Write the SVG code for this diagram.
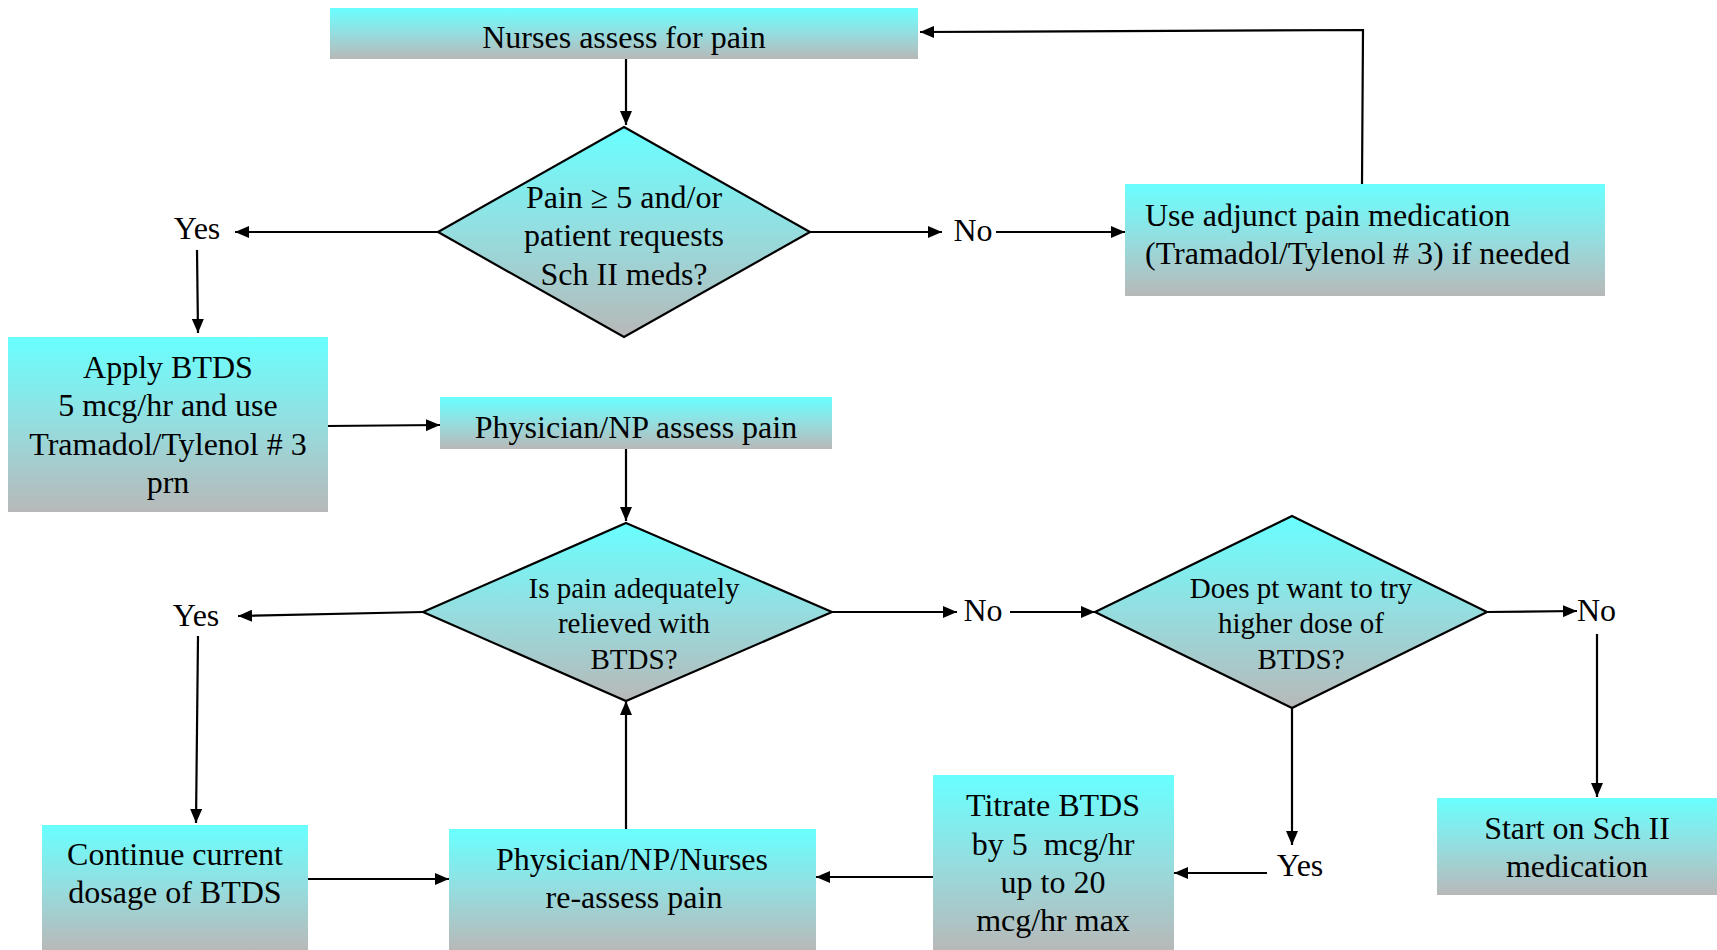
<svg xmlns="http://www.w3.org/2000/svg" width="1717" height="950" viewBox="0 0 1717 950">
<style>
  .t { font-family: "Liberation Serif", "Times New Roman", serif; font-size: 32px; fill: #000; }
  .s { font-size: 29px; }
  .m { text-anchor: middle; }
  .box { fill: url(#g); stroke: none; }
  .dia { fill: url(#g); stroke: #000; stroke-width: 2.2; stroke-linejoin: miter; }
  .c { fill: none; stroke: #000; stroke-width: 2.2; }
  .a { marker-end: url(#ah); }
</style>
<defs>
  <linearGradient id="g" x1="0" y1="0" x2="0" y2="1">
    <stop offset="0" stop-color="#69FFFF"/>
    <stop offset="0.5" stop-color="#95DDDF"/>
    <stop offset="1" stop-color="#B8B8B8"/>
  </linearGradient>
  <marker id="ah" viewBox="0 0 14 12" refX="14" refY="6" markerWidth="14" markerHeight="12" markerUnits="userSpaceOnUse" orient="auto">
    <path d="M0,0 L14,6 L0,12 z" fill="#000"/>
  </marker>
</defs>
<rect width="1717" height="950" fill="#fff"/>

<g id="connectors">
  <line class="c a" x1="626" y1="59" x2="626" y2="125"/>
  <line class="c a" x1="438" y1="232" x2="235" y2="232"/>
  <line class="c a" x1="197" y1="250" x2="198" y2="333"/>
  <line class="c a" x1="810" y1="232" x2="942" y2="232"/>
  <line class="c a" x1="996" y1="232" x2="1125" y2="232"/>
  <polyline class="c a" points="1362,184 1363,30 920,32"/>
  <line class="c a" x1="327" y1="426" x2="440" y2="425"/>
  <line class="c a" x1="626" y1="449" x2="626" y2="521"/>
  <line class="c a" x1="423" y1="612" x2="238" y2="616"/>
  <line class="c a" x1="198" y1="636" x2="196" y2="823"/>
  <line class="c a" x1="832" y1="612" x2="957" y2="612"/>
  <line class="c a" x1="1010" y1="612" x2="1095" y2="612"/>
  <line class="c a" x1="1487" y1="612" x2="1577" y2="611"/>
  <line class="c a" x1="1597" y1="634" x2="1597" y2="797"/>
  <line class="c a" x1="1292" y1="708" x2="1292" y2="845"/>
  <line class="c a" x1="1267" y1="873" x2="1174" y2="873"/>
  <line class="c a" x1="933" y1="877" x2="816" y2="877"/>
  <line class="c a" x1="308" y1="879" x2="449" y2="879"/>
  <line class="c a" x1="626" y1="829" x2="626" y2="701"/>
  <text class="t m" x="197" y="239">Yes</text>
  <text class="t m" x="973" y="241">No</text>
  <text class="t m" x="196" y="626">Yes</text>
  <text class="t m" x="983" y="621">No</text>
  <text class="t" x="1577" y="621">No</text>
  <text class="t m" x="1300" y="876">Yes</text>
</g>

<g id="n-nurses">
  <rect class="box" x="330" y="8" width="588" height="51"/>
  <text class="t m" x="624" y="48">Nurses assess for pain</text>
</g>

<g id="n-dec1">
  <polygon class="dia" points="624,127 810,232 624,337 438,232"/>
  <text class="t m" x="624" y="208">Pain ≥ 5 and/or</text>
  <text class="t m" x="624" y="246">patient requests</text>
  <text class="t m" x="624" y="285">Sch II meds?</text>
</g>

<g id="n-adjunct">
  <rect class="box" x="1125" y="184" width="480" height="112"/>
  <text class="t" x="1145" y="226">Use adjunct pain medication</text>
  <text class="t" x="1145" y="264">(Tramadol/Tylenol # 3) if needed</text>
</g>

<g id="n-apply">
  <rect class="box" x="8" y="337" width="320" height="175"/>
  <text class="t m" x="168" y="378">Apply BTDS</text>
  <text class="t m" x="168" y="416">5 mcg/hr and use</text>
  <text class="t m" x="168" y="455">Tramadol/Tylenol # 3</text>
  <text class="t m" x="168" y="493">prn</text>
</g>

<g id="n-physassess">
  <rect class="box" x="440" y="397" width="392" height="52"/>
  <text class="t m" x="636" y="438">Physician/NP assess pain</text>
</g>

<g id="n-dec2">
  <polygon class="dia" points="626,523 832,612 626,701 423,612"/>
  <text class="t s m" x="634" y="598">Is pain adequately</text>
  <text class="t s m" x="634" y="633">relieved with</text>
  <text class="t s m" x="634" y="669">BTDS?</text>
</g>

<g id="n-dec3">
  <polygon class="dia" points="1292,516 1487,612 1292,708 1095,612"/>
  <text class="t s m" x="1301" y="598">Does pt want to try</text>
  <text class="t s m" x="1301" y="633">higher dose of</text>
  <text class="t s m" x="1301" y="669">BTDS?</text>
</g>

<g id="n-continue">
  <rect class="box" x="42" y="825" width="266" height="125"/>
  <text class="t m" x="175" y="865">Continue current</text>
  <text class="t m" x="175" y="903">dosage of BTDS</text>
</g>

<g id="n-reassess">
  <rect class="box" x="449" y="829" width="367" height="121"/>
  <text class="t m" x="632" y="870">Physician/NP/Nurses</text>
  <text class="t m" x="634" y="908">re-assess pain</text>
</g>

<g id="n-titrate">
  <rect class="box" x="933" y="775" width="241" height="175"/>
  <text class="t m" x="1053" y="816">Titrate BTDS</text>
  <text class="t m" x="1053" y="855" style="white-space:pre">by 5  mcg/hr</text>
  <text class="t m" x="1053" y="893">up to 20</text>
  <text class="t m" x="1053" y="931">mcg/hr max</text>
</g>

<g id="n-schii">
  <rect class="box" x="1437" y="798" width="280" height="97"/>
  <text class="t m" x="1577" y="839">Start on Sch II</text>
  <text class="t m" x="1577" y="877">medication</text>
</g>
</svg>
